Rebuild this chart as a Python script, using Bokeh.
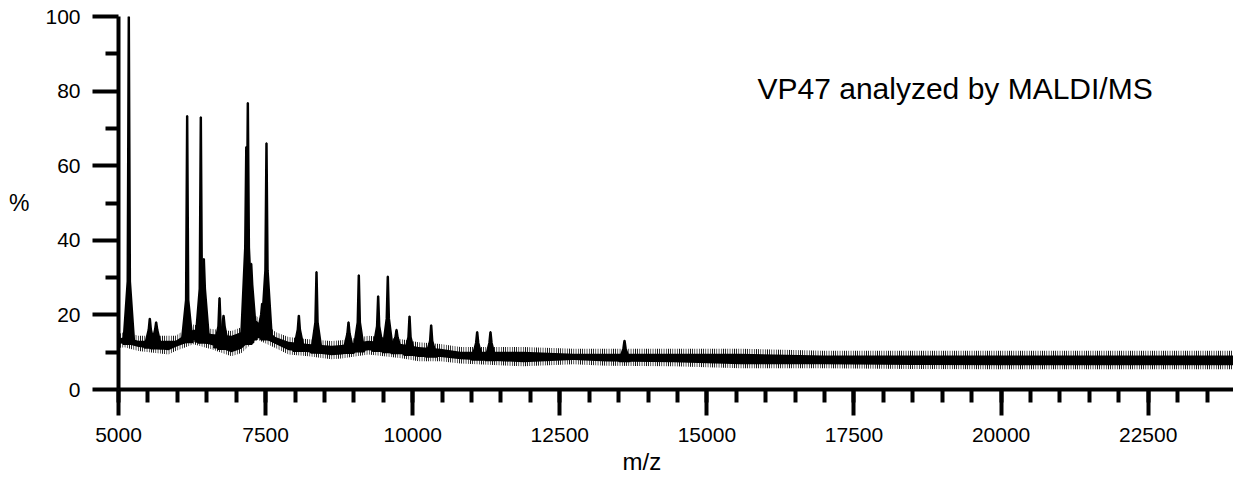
import numpy as np
from bokeh.plotting import figure
from bokeh.models import FixedTicker, Label, Range1d, Title
from bokeh.embed import file_html
from bokeh.resources import INLINE

# ---- data ----
x_major_ticks = [5000, 7500, 10000, 12500, 15000, 17500, 20000, 22500]
x_minor_ticks = list(range(5000, 24001, 500))
y_major_ticks = [0, 20, 40, 60, 80, 100]
y_minor_ticks = [10, 30, 50, 70, 90]

# noise band of the spectrum (lower / upper envelope, %)
band_mz = [5000, 5100, 5340, 5850, 5970, 6275, 6580, 6920, 7090, 7345, 7668, 7890,
           8230, 8620, 8790, 9250, 9810, 10100, 10472, 10812, 11885, 12730, 13300,
           14430, 15570, 16980, 18500, 20000, 21500, 23000, 23950]
band_hi = [14.5, 15.0, 14.0, 14.0, 14.0, 17.0, 15.8, 15.3, 16.3, 19.3, 15.0, 13.7,
           13.1, 12.6, 12.8, 14.0, 13.1, 12.3, 11.8, 11.0, 11.0, 10.5, 10.5,
           10.5, 10.5, 10.0, 10.0, 10.0, 10.0, 10.0, 10.0]
band_lo = [11.3, 11.5, 10.5, 9.6, 10.5, 12.3, 11.0, 9.1, 10.0, 13.7, 11.3, 9.6,
           9.1, 8.3, 8.5, 9.6, 8.6, 7.8, 7.8, 7.2, 6.4, 7.0, 6.6,
           6.4, 5.9, 5.9, 5.7, 5.6, 5.6, 5.6, 5.6]

# peaks: position (m/z), apex (%), height of the broad foot (%)
peak_mz = [5175, 5532, 5640, 6167, 6399, 6450, 6717, 6785, 7172, 7198, 7255, 7442,
           7515, 8065, 8365, 8909, 9084, 9413, 9577, 9725, 9946, 10314, 11096,
           11322, 13600]
peak_top = [100, 19, 18, 73.3, 73, 35, 24.5, 19.8, 65, 76.8, 33.7, 23,
            66, 19.8, 31.5, 18, 30.6, 25, 30.3, 16, 19.6, 17.2, 15.4,
            15.4, 13.1]
peak_foot = [29, 16, 16, 24, 27, 27, 17, 17, 38, 38, 28, 20,
             32, 16, 18, 15, 18, 17, 19, 14, 14, 13, 12.5,
             12.5, 11]

title_text = "VP47 analyzed by MALDI/MS"
x_label = "m/z"
y_label = "%"

FONT = "Liberation Sans"

p = figure(width=1233, height=479, output_backend="svg", toolbar_location=None,
           x_range=Range1d(5000, 23950), y_range=Range1d(0, 100),
           min_border_left=118, min_border_right=0, min_border_top=16,
           min_border_bottom=90)
p.outline_line_color = None
p.grid.visible = False
p.background_fill_color = "white"
p.border_fill_color = "white"

for ax, maj, mnr in ((p.xaxis[0], x_major_ticks, x_minor_ticks),
                     (p.yaxis[0], y_major_ticks, y_minor_ticks)):
    ax.ticker = FixedTicker(ticks=maj, minor_ticks=mnr)
    ax.axis_line_width = 4
    ax.axis_line_color = "black"
    ax.major_tick_line_width = 4
    ax.minor_tick_line_width = 4
    ax.major_tick_line_color = "black"
    ax.minor_tick_line_color = "black"
    ax.major_tick_in = 0
    ax.minor_tick_in = 0
    ax.major_tick_out = 26
    ax.minor_tick_out = 13
    ax.major_label_text_font = FONT
    ax.major_label_text_font_size = "21px"
    ax.major_label_text_color = "black"
    ax.major_label_standoff = 12

p.yaxis.axis_label = y_label
p.yaxis.axis_label_orientation = "horizontal"
p.yaxis.axis_label_text_font = FONT
p.yaxis.axis_label_text_font_style = "normal"
p.yaxis.axis_label_text_font_size = "23px"
p.yaxis.axis_label_text_color = "black"
p.yaxis.axis_label_standoff = 13

# noise band: solid core plus a dense comb-like fringe for the noisy edges
lo = np.array(band_lo)
hi = np.array(band_hi)
p.varea(x=band_mz, y1=lo - 0.2, y2=hi + 0.4, fill_alpha=0,
        hatch_pattern="vertical_line", hatch_color="black",
        hatch_scale=2.2, hatch_weight=1.3)
p.varea(x=band_mz, y1=lo + 0.9, y2=hi - 0.9, fill_color="black")

# peaks
xs, ys = [], []
for m, t, f in zip(peak_mz, peak_top, peak_foot):
    b = float(np.interp(m, band_mz, band_lo)) + 1.0
    xs.append([m - 95, m - 22, m - 4, m + 4, m + 22, m + 95])
    ys.append([b, f, t, t, f, b])
p.patches(xs, ys, fill_color="black", line_color="black", line_width=2)

p.add_layout(Title(text=x_label, align="left", offset=504, standoff=6,
                   vertical_align="top", text_font=FONT, text_font_size="24px",
                   text_font_style="normal", text_color="black"), "below")
p.add_layout(Label(x=15860, y=80.7, text=title_text, text_align="left",
                   text_baseline="middle", text_font=FONT, text_font_size="30px",
                   text_color="black"))

open("out.html", "w").write(file_html(p, INLINE))
